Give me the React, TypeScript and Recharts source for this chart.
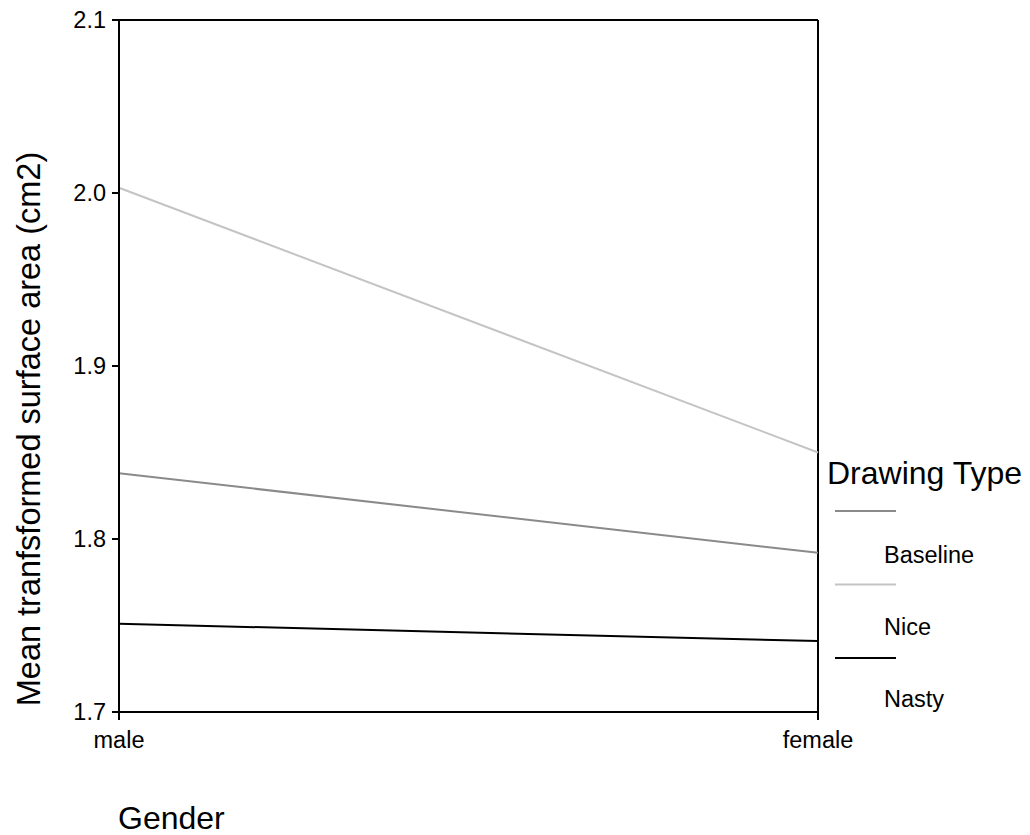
import { LineChart, Line, XAxis, YAxis, ReferenceLine, Label } from "recharts";

const genders = ["male", "female"];
const baselineVals = [1.838, 1.792];
const niceVals = [2.003, 1.85];
const nastyVals = [1.751, 1.741];
const yTicks = [1.7, 1.8, 1.9, 2.0, 2.1];

const seriesNames = ["Baseline", "Nice", "Nasty"];
const seriesColors = ["#8a8a8a", "#c4c4c4", "#000000"];

const data = genders.map((g, i) => ({
  gender: g,
  Baseline: baselineVals[i],
  Nice: niceVals[i],
  Nasty: nastyVals[i],
}));

const font = '"Liberation Sans", Arial, sans-serif';

function ChartLegend() {
  return (
    <svg
      width={203}
      height={290}
      style={{ position: "absolute", left: 827, top: 440, fontFamily: font }}
    >
      <text x={0} y={44} fontSize={32} fill="#000">
        Drawing Type
      </text>
      {seriesNames.map((name, i) => (
        <g key={name}>
          <line x1={8} x2={69} y1={71 + i * 73.5} y2={71 + i * 73.5} stroke={seriesColors[i]} strokeWidth={2} />
          <text x={57} y={123 + i * 72} fontSize={23.5} fill="#000">
            {name}
          </text>
        </g>
      ))}
    </svg>
  );
}

function YTitle() {
  return (
    <text
      x={40}
      y={429}
      transform="rotate(-90 40 429)"
      textAnchor="middle"
      fontSize={32.5}
      fill="#000"
      fontFamily={font}
    >
      Mean tranfsformed surface area (cm2)
    </text>
  );
}

function XTitle() {
  return (
    <text x={118} y={829} fontSize={32} fill="#000" fontFamily={font}>
      Gender
    </text>
  );
}

export default function App() {
  return (
    <div
      style={{
        position: "absolute",
        left: 0,
        top: 0,
        width: 1030,
        height: 835,
        background: "#fff",
        fontFamily: font,
      }}
    >
      <LineChart
        width={1030}
        height={835}
        data={data}
        margin={{ top: 20, right: 212, left: 59, bottom: 93 }}
      >
        <XAxis
          dataKey="gender"
          height={30}
          tickSize={8}
          tickLine={{ stroke: "#000", strokeWidth: 2 }}
          axisLine={{ stroke: "#000", strokeWidth: 2 }}
          tick={{ fill: "#000", fontSize: 23.5, fontFamily: font, dy: 9 }}
          interval={0}
        >
          <Label content={<XTitle />} />
        </XAxis>
        <YAxis
          width={60}
          domain={[1.7, 2.1]}
          ticks={yTicks}
          tickFormatter={(v: number) => v.toFixed(1)}
          tickSize={7}
          tickLine={{ stroke: "#000", strokeWidth: 2 }}
          axisLine={{ stroke: "#000", strokeWidth: 2 }}
          tick={{ fill: "#000", fontSize: 23.5, fontFamily: font, dx: -4 }}
        >
          <Label content={<YTitle />} />
        </YAxis>
        <ReferenceLine y={2.1} stroke="#000" strokeWidth={2} />
        <ReferenceLine x="female" stroke="#000" strokeWidth={2} />
        {seriesNames.map((name, i) => (
          <Line
            key={name}
            dataKey={name}
            stroke={seriesColors[i]}
            strokeWidth={2}
            dot={false}
            activeDot={false}
            isAnimationActive={false}
          />
        ))}
      </LineChart>
      <ChartLegend />
    </div>
  );
}
